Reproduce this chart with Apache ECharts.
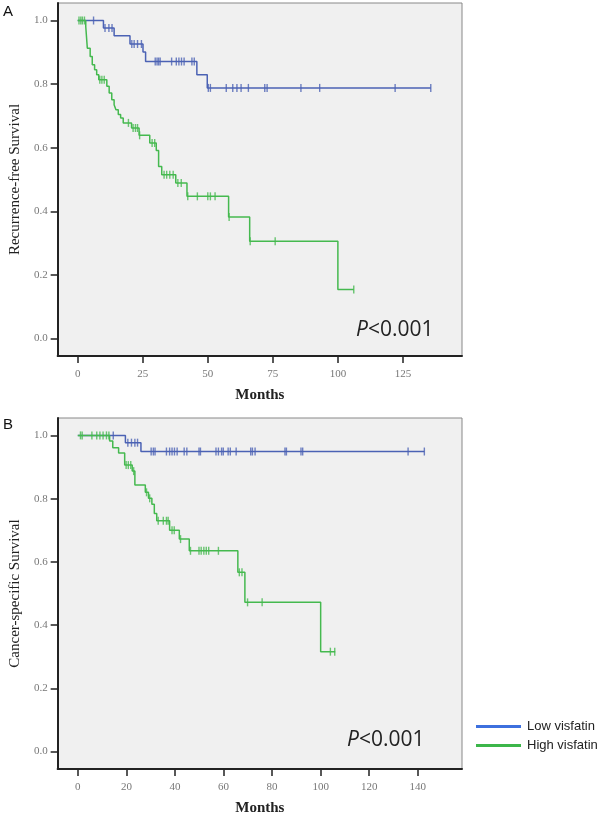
<!DOCTYPE html>
<html>
<head>
<meta charset="utf-8">
<script src="https://cdn.jsdelivr.net/npm/echarts@6/dist/echarts.min.js"></script>
<style>
html,body{margin:0;padding:0;background:#fff;}
#chart{width:600px;height:817px;}
</style>
</head>
<body>
<div id="chart"></div>
<script>
// ---------- Panel A: Recurrence-free survival ----------
const aLowTimes  = [0, 9.9, 14.0, 20.1, 25.1, 26.1, 45.8, 49.8, 135.7];
const aLowSurv   = [1.0, 0.976, 0.952, 0.926, 0.901, 0.871, 0.829, 0.788, 0.788];
const aLowCensor = [6.1, 10.5, 12.0, 13.2, 20.8, 21.7, 23.0, 24.5, 29.8, 30.5, 31.1, 31.7, 36.1, 37.9, 38.9, 39.9, 40.9, 43.9, 44.8, 50.2, 51.0, 57.1, 59.6, 61.2, 62.8, 65.6, 71.9, 72.8, 85.8, 93.0, 122.0, 135.7];

const aHighTimes  = [0, 3.1, 3.7, 4.8, 5.6, 6.5, 7.3, 8.1, 11.2, 12.1, 13.1, 14.0, 14.7, 15.6, 16.5, 17.5, 20.7, 23.6, 27.7, 30.2, 31.1, 32.3, 37.7, 42.0, 58.0, 66.1, 100.0, 106.1];
const aHighSurv   = [1.0, 0.981, 0.913, 0.887, 0.861, 0.845, 0.829, 0.814, 0.793, 0.772, 0.751, 0.735, 0.719, 0.704, 0.693, 0.678, 0.662, 0.639, 0.615, 0.591, 0.541, 0.515, 0.489, 0.447, 0.382, 0.306, 0.154, 0.154];
const aHighCensor = [0.5, 1.2, 1.8, 2.6, 8.5, 9.3, 10.2, 19.5, 21.3, 22.2, 23.0, 23.8, 28.6, 29.6, 33.2, 34.2, 35.4, 36.7, 38.5, 39.8, 42.3, 46.0, 50.0, 51.0, 52.8, 58.2, 66.3, 75.9, 106.1];

// ---------- Panel B: Cancer-specific survival ----------
const bLowTimes  = [0, 19.6, 26.0, 142.7];
const bLowSurv   = [1.0, 0.977, 0.949, 0.949];
const bLowCensor = [14.6, 20.6, 22.1, 23.5, 24.6, 30.2, 31.1, 31.8, 36.5, 37.8, 38.8, 39.8, 40.9, 43.8, 44.9, 49.9, 50.5, 56.9, 57.9, 59.2, 59.9, 61.9, 62.8, 65.2, 71.2, 71.9, 73.0, 85.3, 85.9, 91.9, 92.6, 136.0, 142.7];

const bHighTimes  = [0, 13.1, 14.4, 16.8, 19.3, 22.4, 23.5, 27.8, 29.1, 30.5, 31.5, 32.5, 37.8, 41.8, 45.9, 65.9, 68.8, 100.0, 106.0];
const bHighSurv   = [1.0, 0.982, 0.961, 0.944, 0.906, 0.887, 0.843, 0.820, 0.801, 0.782, 0.753, 0.730, 0.700, 0.672, 0.635, 0.567, 0.472, 0.316, 0.316];
const bHighCensor = [1.1, 1.8, 5.8, 7.8, 9.1, 10.4, 11.8, 12.8, 19.9, 20.8, 21.8, 23.0, 28.3, 29.6, 33.1, 35.2, 36.5, 37.2, 38.8, 39.7, 42.3, 46.4, 49.9, 50.8, 51.9, 52.9, 53.9, 57.9, 66.5, 67.6, 69.9, 75.9, 104.0, 105.8];

// ---------- Axis ticks / labels ----------
const yTicks = [0, 0.2, 0.4, 0.6, 0.8, 1.0];
const yTickLabels = ['0.0', '0.2', '0.4', '0.6', '0.8', '1.0'];
const aXTicks = [0, 25, 50, 75, 100, 125];
const bXTicks = [0, 20, 40, 60, 80, 100, 120, 140];
const groupNames = ['Low visfatin', 'High visfatin'];
const yTitles = ['Recurrence-free Survival', 'Cancer-specific Survival'];
const xTitle = 'Months';
const pText = '<0.001';

// ---------- styling ----------
const LOW_COLOR = '#4b62b4';
const HIGH_COLOR = '#45b94f';
const SERIF = '"Liberation Serif", "Times New Roman", serif';

function stepData(times, surv) {
  return times.map((t, i) => [t, surv[i]]);
}
function censorData(censor, times, surv) {
  return censor.map(t => {
    let idx = 0;
    for (let i = 0; i < times.length; i++) if (times[i] <= t) idx = i;
    return [t, surv[idx]];
  });
}

function makeX(gi, min, max, ticks) {
  return {
    gridIndex: gi, type: 'value', min: min, max: max,
    axisLine: { show: true, onZero: false, lineStyle: { color: '#222', width: 2 } },
    axisTick: { show: true, length: 7, customValues: ticks, lineStyle: { color: '#222', width: 1.5 } },
    axisLabel: { customValues: ticks, fontFamily: SERIF, fontSize: 11, color: '#777', margin: 13 },
    splitLine: { show: false },
    name: xTitle, nameLocation: 'middle', nameGap: 32,
    nameTextStyle: { fontFamily: SERIF, fontSize: 15, fontWeight: 'bold', color: '#222' }
  };
}
function makeY(gi, title) {
  return {
    gridIndex: gi, type: 'value', min: -0.055, max: 1.055,
    axisLine: { show: true, onZero: false, lineStyle: { color: '#222', width: 2 } },
    axisTick: { show: true, length: 7, customValues: yTicks, lineStyle: { color: '#222', width: 1.5 } },
    axisLabel: { customValues: yTicks, fontFamily: SERIF, fontSize: 11, color: '#777', margin: 10,
      formatter: v => yTickLabels[yTicks.findIndex(t => Math.abs(t - v) < 1e-6)] },
    splitLine: { show: false },
    name: title, nameLocation: 'middle', nameGap: 30,
    nameTextStyle: { fontFamily: SERIF, fontSize: 15, color: '#222' }
  };
}
function lineSeries(name, gi, times, surv, color) {
  return {
    name: name, type: 'line', xAxisIndex: gi, yAxisIndex: gi, step: 'end',
    data: stepData(times, surv), showSymbol: false, symbol: 'none',
    lineStyle: { color: color, width: 1.5 }, itemStyle: { color: color }, z: 3
  };
}
function censorSeries(name, gi, censor, times, surv, color) {
  return {
    name: name, type: 'scatter', xAxisIndex: gi, yAxisIndex: gi,
    data: censorData(censor, times, surv), symbol: 'rect', symbolSize: [1.4, 8],
    itemStyle: { color: color }, z: 4
  };
}

const chart = echarts.init(document.getElementById('chart'), null, { renderer: 'canvas' });
chart.setOption({
  animation: false,
  backgroundColor: '#fff',
  grid: [
    { left: 47, top: 3, width: 415, height: 353, show: true, backgroundColor: '#f0f0f0', borderColor: '#888', borderWidth: 1 },
    { left: 47, top: 418, width: 415, height: 353, show: true, backgroundColor: '#f0f0f0', borderColor: '#888', borderWidth: 1 }
  ],
  xAxis: [makeX(0, -7.7, 147.7, aXTicks), makeX(1, -8.3, 158.2, bXTicks)],
  yAxis: [makeY(0, yTitles[0]), makeY(1, yTitles[1])],
  legend: {
    orient: 'vertical', left: 471, top: 715, itemWidth: 45, itemHeight: 3, itemGap: 6,
    icon: 'rect',
    textStyle: { fontFamily: '"Liberation Sans", Arial, sans-serif', fontSize: 13, color: '#222', padding: [0, 0, 0, 1] },
    data: [
      { name: groupNames[0], itemStyle: { color: '#3d70de' } },
      { name: groupNames[1], itemStyle: { color: '#3cb64a' } }
    ]
  },
  series: [
    lineSeries(groupNames[0], 0, aLowTimes, aLowSurv, LOW_COLOR),
    lineSeries(groupNames[1], 0, aHighTimes, aHighSurv, HIGH_COLOR),
    censorSeries(groupNames[0], 0, aLowCensor, aLowTimes, aLowSurv, LOW_COLOR),
    censorSeries(groupNames[1], 0, aHighCensor, aHighTimes, aHighSurv, HIGH_COLOR),
    lineSeries(groupNames[0], 1, bLowTimes, bLowSurv, LOW_COLOR),
    lineSeries(groupNames[1], 1, bHighTimes, bHighSurv, HIGH_COLOR),
    censorSeries(groupNames[0], 1, bLowCensor, bLowTimes, bLowSurv, LOW_COLOR),
    censorSeries(groupNames[1], 1, bHighCensor, bHighTimes, bHighSurv, HIGH_COLOR)
  ],
  graphic: [
    { type: 'text', left: 3, top: 4, style: { text: 'A', font: '15px "Liberation Sans", Arial, sans-serif', fill: '#111' } },
    { type: 'text', left: 3, top: 417, style: { text: 'B', font: '15px "Liberation Sans", Arial, sans-serif', fill: '#111' } },
    { type: 'text', left: 356, top: 320, z: 10, style: {
        text: '{i|P}{n|' + pText + '}',
        rich: { i: { fontStyle: 'italic', fontFamily: '"Open Sans", sans-serif', fontSize: 21, fill: '#222' },
                n: { fontFamily: '"Open Sans", sans-serif', fontSize: 21, fill: '#222' } } } },
    { type: 'text', left: 347, top: 730, z: 10, style: {
        text: '{i|P}{n|' + pText + '}',
        rich: { i: { fontStyle: 'italic', fontFamily: '"Open Sans", sans-serif', fontSize: 21, fill: '#222' },
                n: { fontFamily: '"Open Sans", sans-serif', fontSize: 21, fill: '#222' } } } }
  ]
});
</script>
</body>
</html>
